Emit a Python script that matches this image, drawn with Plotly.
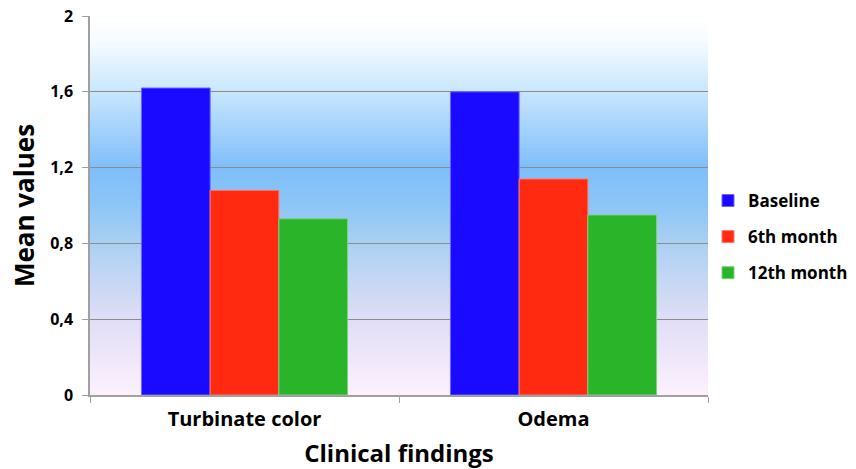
import plotly.graph_objects as go

categories = ["Turbinate color", "Odema"]
series_names = ["Baseline", "6th month", "12th month"]
baseline = [1.62, 1.60]
month6 = [1.08, 1.14]
month12 = [0.93, 0.95]
y_tickvals = [0, 0.4, 0.8, 1.2, 1.6, 2]
y_ticktext = ["0", "0,4", "0,8", "1,2", "1,6", "2"]

colors = ["#1a0aff", "#ff2a10", "#2ab42a"]
edge = ["#6f66ff", "#ff7a6a", "#7fd07f"]

FONT = "Open Sans"

fig = go.Figure()
for name, vals, c, e in zip(series_names, [baseline, month6, month12], colors, edge):
    fig.add_trace(go.Bar(name=name, x=categories, y=vals, marker=dict(color=c, line=dict(color=e, width=1)),
                         legendgroup=name))

# gradient background
stops = [(0.0, (253, 240, 253)), (0.2, (224, 222, 246)), (0.4, (171, 208, 242)),
         (0.5, (140, 198, 247)), (0.6, (127, 190, 250)), (0.8, (200, 230, 253)), (0.93, (245, 251, 255)),
         (1.0, (255, 255, 255))]

def col_at(t):
    for (t0, c0), (t1, c1) in zip(stops[:-1], stops[1:]):
        if t0 <= t <= t1:
            f = (t - t0) / (t1 - t0)
            return "rgb(%d,%d,%d)" % tuple(round(a + (b - a) * f) for a, b in zip(c0, c1))
    return "rgb(255,255,255)"

N = 95
shapes = []
for i in range(N):
    y0 = i / N
    y1 = (i + 1) / N
    shapes.append(dict(type="rect", xref="paper", yref="paper", x0=0, x1=1, y0=y0, y1=y1 + 0.002,
                       fillcolor=col_at((y0 + y1) / 2), line=dict(width=0), layer="below"))

fig.update_layout(
    width=856, height=469,
    margin=dict(l=90, r=148, t=16, b=74, autoexpand=False),
    paper_bgcolor="white", plot_bgcolor="rgba(0,0,0,0)",
    barmode="group", bargap=0.333, bargroupgap=0,
    shapes=shapes,
    font=dict(family=FONT, color="black"),
    legend=dict(x=1.0, xanchor="left", y=0.417, yanchor="middle",
                font=dict(size=17, family=FONT, weight="bold"),
                tracegroupgap=11, itemwidth=30),
    xaxis=dict(automargin=False, showline=True, linecolor="#a0a0a0", linewidth=1.5,
               ticks="outside", ticklen=6, tickcolor="#a0a0a0", tickson="boundaries",
               ticklabelstandoff=5,
               tickfont=dict(size=20, family=FONT, weight="bold"),
               title=dict(text="Clinical findings", font=dict(size=24, family=FONT, weight="bold"), standoff=16)),
    yaxis=dict(automargin=False, range=[0, 2], tickvals=y_tickvals, ticktext=y_ticktext,
               showline=True, linecolor="#a0a0a0", linewidth=1.5,
               showgrid=True, gridcolor="#8c8c8c", gridwidth=1.2, zeroline=False,
               ticks="outside", ticklen=6, tickcolor="#a0a0a0", ticklabelstandoff=6,
               tickfont=dict(size=16, family=FONT, weight="bold"),
               title=dict(text="Mean values", font=dict(size=26, family=FONT, weight="bold"), standoff=8)),
)

fig.write_html("out.html", config={"displayModeBar": False},
               post_script="document.body.style.margin='0';document.body.style.overflow='hidden';")
